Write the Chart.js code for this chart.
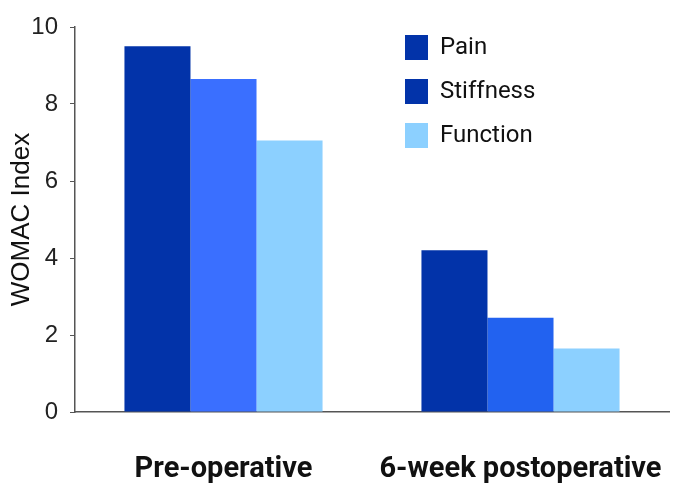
<!DOCTYPE html>
<html>
<head>
<meta charset="utf-8">
<script src="https://cdn.jsdelivr.net/npm/chart.js@4"></script>
<style>
  html, body { margin: 0; padding: 0; background: #fff; }
  #wrap { width: 700px; height: 490px; }
</style>
</head>
<body>
<div id="wrap"><canvas id="chart"></canvas></div>
<script>
var groups = ['Pre-operative', '6-week postoperative'];
var seriesNames = ['Pain', 'Stiffness', 'Function'];
var painValues = [9.5, 4.2];
var stiffnessValues = [8.65, 2.45];
var functionValues = [7.05, 1.65];
var yTicks = [0, 2, 4, 6, 8, 10];

var painColor = '#0233A9';
var stiffnessColors = ['#3A6FFF', '#2262F0'];
var functionColor = '#8CD0FF';
var legendColors = ['#0233A9', '#0233A9', '#8CD0FF'];

// legend drawn inside the plot, upper right, like the original
var boxLegend = {
  id: 'boxLegend',
  afterDraw: function(chart) {
    var ctx = chart.ctx;
    var x = chart.chartArea.left + 330;
    var y = chart.chartArea.top + 8;
    ctx.save();
    ctx.font = '24px Roboto, "Liberation Sans", sans-serif';
    ctx.textBaseline = 'middle';
    seriesNames.forEach(function(name, i) {
      var top = y + i * 44;
      ctx.fillStyle = legendColors[i];
      ctx.fillRect(x, top, 23, 25);
      ctx.fillStyle = '#111';
      ctx.fillText(name, x + 35, top + 13);
    });
    ctx.restore();
  }
};

new Chart(document.getElementById('chart'), {
  type: 'bar',
  data: {
    labels: groups,
    datasets: [
      { label: seriesNames[0], data: painValues, backgroundColor: painColor },
      { label: seriesNames[1], data: stiffnessValues, backgroundColor: stiffnessColors },
      { label: seriesNames[2], data: functionValues, backgroundColor: functionColor }
    ]
  },
  options: {
    responsive: true,
    maintainAspectRatio: false,
    animation: false,
    layout: { padding: { top: 27, right: 31, left: 0, bottom: 0 } },
    datasets: { bar: { categoryPercentage: 0.667, barPercentage: 1.0 } },
    plugins: {
      legend: { display: false },
      tooltip: { enabled: false }
    },
    scales: {
      x: {
        grid: { display: false, drawTicks: false },
        border: { color: '#555', width: 1.5 },
        ticks: {
          padding: 40,
          maxRotation: 0,
          autoSkip: false,
          color: '#111',
          font: { family: 'Roboto, "Liberation Sans", sans-serif', size: 29, weight: 'bold' }
        },
        afterFit: function(s) {
          s.height = 78;
          s.paddingLeft = 0;
          s.paddingRight = 0;
        }
      },
      y: {
        min: 0,
        max: 10,
        afterBuildTicks: function(s) {
          s.ticks = yTicks.map(function(v) { return { value: v }; });
        },
        grid: { drawOnChartArea: false, tickLength: 5, color: '#555' },
        border: { color: '#555', width: 1.5 },
        ticks: {
          padding: 12,
          color: '#222',
          font: { family: '"Liberation Sans", Arial, sans-serif', size: 24 }
        },
        title: {
          display: true,
          text: 'WOMAC Index',
          color: '#111',
          padding: { top: 6, bottom: 0 },
          font: { family: '"Liberation Sans", Arial, sans-serif', size: 26 }
        },
        afterFit: function(s) { s.width = 75; }
      }
    }
  },
  plugins: [boxLegend]
});
</script>
</body>
</html>
